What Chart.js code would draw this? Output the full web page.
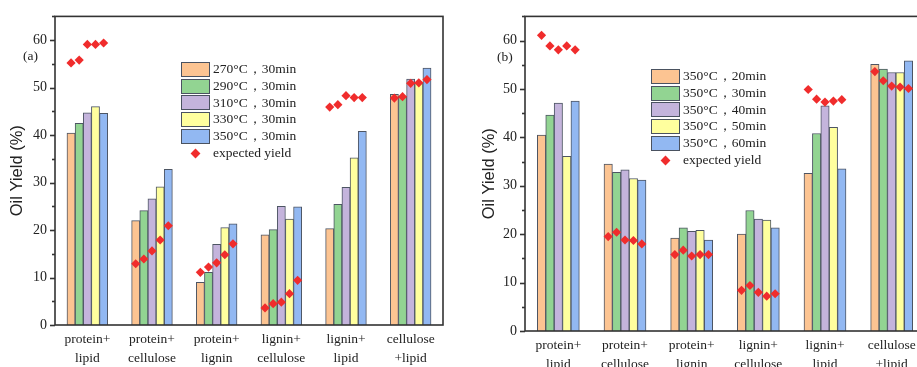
<!DOCTYPE html>
<html>
<head>
<meta charset="utf-8">
<script src="https://cdn.jsdelivr.net/npm/chart.js@4"></script>
<style>
  html, body { margin:0; padding:0; background:#fff; overflow:hidden; width:917px; height:367px; }
  #wrap { position:relative; width:917px; height:367px; overflow:hidden; }
  .pane { position:absolute; top:0; }
  .legend { position:absolute; font-family:"Liberation Serif", serif; font-size:13.5px; color:#222; line-height:16.8px; }
  .legend .row { display:flex; align-items:center; height:16.8px; }
  .legend .box { width:29px; height:15px; border:1.2px solid #4a5260; box-sizing:border-box; margin-right:3px; }
  .legend .dia { width:29px; height:14px; margin-right:3px; display:flex; align-items:center; justify-content:center; }
  .legend .dia span { width:7px; height:7px; background:#f02c2c; transform:rotate(45deg); display:block; }
  .plabel { position:absolute; font-family:"Liberation Serif", serif; font-size:13.5px; color:#222; }
</style>
</head>
<body>
<div id="wrap">
  <div class="pane" style="left:0;width:460px;height:367px;"><canvas id="ca"></canvas></div>
  <div class="pane" style="left:460px;width:480px;height:385px;"><canvas id="cb"></canvas></div>
  <div class="plabel" style="left:23px;top:48px;">(a)</div>
  <div class="plabel" style="left:497px;top:49px;">(b)</div>
  <div class="legend" id="lega" style="left:181px;top:61px;"></div>
  <div class="legend" id="legb" style="left:651px;top:68px;"></div>
</div>
<script>
// ---------- data ----------
const categories = [["protein+","lipid"],["protein+","cellulose"],["protein+","lignin"],["lignin+","cellulose"],["lignin+","lipid"],["cellulose","+lipid"]];

const seriesNamesA = ["270°C，30min","290°C，30min","310°C，30min","330°C，30min","350°C，30min"];
const seriesNamesB = ["350°C，20min","350°C，30min","350°C，40min","350°C，50min","350°C，60min"];
const expectedName = "expected yield";

// panel (a): one array per series, one value per category
const a270 = [40.4, 22.0,  9.0, 19.0, 20.3, 48.6];
const a290 = [42.5, 24.1, 11.1, 20.1, 25.4, 48.2];
const a310 = [44.7, 26.6, 17.0, 25.0, 29.0, 51.8];
const a330 = [46.0, 29.1, 20.5, 22.3, 35.2, 51.0];
const a350 = [44.6, 32.8, 21.3, 24.9, 40.8, 54.1];
const aExp270 = [55.2, 12.9, 11.1, 3.6, 45.9, 47.8];
const aExp290 = [55.8, 13.9, 12.2, 4.5, 46.4, 48.1];
const aExp310 = [59.1, 15.6, 13.1, 4.8, 48.3, 50.9];
const aExp330 = [59.1, 17.9, 14.8, 6.6, 47.9, 51.0];
const aExp350 = [59.4, 20.9, 17.1, 9.4, 47.9, 51.7];

// panel (b)
const b20 = [40.5, 34.5, 19.2, 20.0, 32.6, 55.1];
const b30 = [44.6, 32.8, 21.3, 24.9, 40.8, 54.1];
const b40 = [47.1, 33.3, 20.6, 23.1, 46.5, 53.4];
const b50 = [36.1, 31.5, 20.8, 22.9, 42.1, 53.4];
const b60 = [47.5, 31.2, 18.8, 21.3, 33.5, 55.8];
const bExp20 = [61.1, 19.5, 15.8, 8.4, 49.9, 53.6];
const bExp30 = [58.9, 20.4, 16.7, 9.4, 47.9, 51.7];
const bExp40 = [58.1, 18.8, 15.5, 8.0, 47.3, 50.6];
const bExp50 = [58.9, 18.7, 15.8, 7.2, 47.5, 50.4];
const bExp60 = [58.1, 18.0, 15.8, 7.7, 47.8, 50.1];

const yMax = 65;
const yMajorStep = 10;
const yMinorStep = 5;

// ---------- styles ----------
const fills = ["rgb(252,196,146)","rgb(146,212,146)","rgb(196,180,220)","rgb(255,255,158)","rgb(146,184,242)"];
const barBorder = "#4d5563";
const diamondColor = "#f02c2c";
const axisColor = "#333";
const GROUP_FRACTION = 0.63;   // share of each category occupied by its bar group

function buildLegend(el, names) {
  let html = "";
  names.forEach((n, i) => {
    html += `<div class="row"><div class="box" style="background:${fills[i]}"></div><div>${n}</div></div>`;
  });
  html += `<div class="row"><div class="dia"><span></span></div><div>${expectedName}</div></div>`;
  el.innerHTML = html;
}

const framePlugin = {
  id: 'frame',
  afterDraw(chart) {
    const {ctx, chartArea:a, scales} = chart;
    ctx.save();
    ctx.strokeStyle = axisColor;
    ctx.lineWidth = 1.6;
    ctx.strokeRect(a.left, a.top, a.right - a.left, a.bottom - a.top);
    const y = scales.y;
    for (let v = 0; v <= yMax; v += yMinorStep) {
      const py = Math.round(y.getPixelForValue(v)) + 0.5;
      const len = (v % yMajorStep === 0) ? 5 : 3;
      ctx.beginPath();
      ctx.moveTo(a.left - len, py);
      ctx.lineTo(a.left, py);
      ctx.stroke();
    }
    ctx.restore();
  }
};

function makeChart(id, paneWidth, names, bars, exps, geom) {
  const n = bars.length;
  const slot = GROUP_FRACTION / n;
  const slotX = (c, j) => c + (j - (n - 1) / 2) * slot;   // category index -> position of condition j
  const plotWidth = paneWidth - geom.yw - geom.right;
  const barPx = plotWidth / categories.length * slot;
  const datasets = bars.map((arr, j) => ({
    type: 'bar',
    label: names[j],
    data: arr.map((v, c) => ({x: slotX(c, j), y: v})),
    grouped: false,
    barThickness: barPx,
    backgroundColor: fills[j],
    borderColor: barBorder,
    borderWidth: 1,
    xAxisID: 'xs',
    yAxisID: 'y',
    order: 2
  }));
  exps.forEach((arr, j) => {
    datasets.push({
      type: 'scatter',
      label: expectedName,
      data: arr.map((v, c) => ({x: slotX(c, j), y: v})),
      xAxisID: 'xs',
      yAxisID: 'y',
      showLine: false,
      pointStyle: 'rectRot',
      pointRadius: 4.6,
      pointHoverRadius: 4.6,
      backgroundColor: diamondColor,
      borderColor: diamondColor,
      borderWidth: 0,
      order: 1
    });
  });

  return new Chart(document.getElementById(id), {
    type: 'bar',
    data: { labels: categories, datasets },
    plugins: [framePlugin],
    options: {
      responsive: true,
      maintainAspectRatio: false,
      animation: false,
      layout: { padding: { top: geom.top, right: geom.right, left: 0, bottom: 0 } },
      plugins: { legend: { display: false }, tooltip: { enabled: false } },
      scales: {
        x: {
          type: 'category',
          offset: true,
          grid: { display: false, drawTicks: false },
          border: { display: false },
          ticks: {
            color: '#222',
            padding: geom.xpad,
            maxRotation: 0,
            autoSkip: false,
            font: { family: '"Liberation Serif", serif', size: 13.5, lineHeight: 1.4 }
          },
          afterFit(s) { s.height = geom.xh; }
        },
        xs: {
          type: 'linear',
          axis: 'x',
          position: 'bottom',
          offset: false,
          min: -0.5, max: categories.length - 0.5,
          ticks: { stepSize: 1 },
          display: false
        },
        y: {
          min: 0, max: yMax,
          stacked: false,
          grid: { display: false, drawTicks: false },
          border: { display: false },
          ticks: {
            stepSize: yMajorStep,
            padding: 8,
            color: '#222',
            font: { family: '"Liberation Serif", serif', size: 14 },
            callback: (v) => (v % yMajorStep === 0 ? v : '')
          },
          title: {
            display: true,
            text: 'Oil Yield (%)',
            color: '#222',
            padding: { top: geom.tpad, bottom: 0 },
            font: { family: '"Liberation Sans", Arial, sans-serif', size: 16.5 }
          },
          afterFit(s) { s.width = geom.yw; }
        }
      }
    }
  });
}

buildLegend(document.getElementById('lega'), seriesNamesA);
buildLegend(document.getElementById('legb'), seriesNamesB);

const chartA = makeChart('ca', 460, seriesNamesA,
  [a270, a290, a310, a330, a350],
  [aExp270, aExp290, aExp310, aExp330, aExp350],
  { top: 14, right: 17, yw: 55, xh: 42, xpad: 5, tpad: 8 });

const chartB = makeChart('cb', 480, seriesNamesB,
  [b20, b30, b40, b50, b60],
  [bExp20, bExp30, bExp40, bExp50, bExp60],
  { top: 10, right: 15, yw: 65, xh: 54, xpad: 5, tpad: 20 });
</script>
</body>
</html>
